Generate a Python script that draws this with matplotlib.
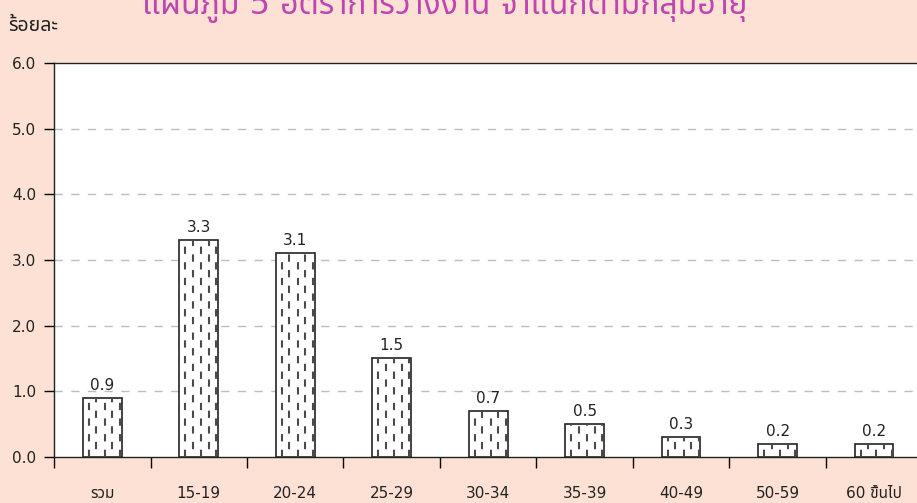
import matplotlib.pyplot as plt
import numpy as np

plt.rcParams['font.family'] = ['DejaVu Sans', 'Noto Sans Thai', 'Loma', 'Garuda', 'Noto Sans']

# data
groups = ['รวม', '15-19', '20-24', '25-29', '30-34', '35-39', '40-49', '50-59', '60 ขึ้นไป']
rates = [0.9, 3.3, 3.1, 1.5, 0.7, 0.5, 0.3, 0.2, 0.2]

title = 'แผนภูมิ 5 อัตราการว่างงาน จำแนกตามกลุ่มอายุ'
ylabel = 'ร้อยละ'

bg = '#fde1d4'

fig = plt.figure(figsize=(9.17, 5.03), dpi=100, facecolor=bg)
ax = fig.add_axes([0.0589, 0.0915, 0.947, 0.7833])
ax.set_facecolor('white')

x = np.arange(len(groups))
bw = 0.4
bars = ax.bar(x, rates, width=bw, color='white', edgecolor='#222222', linewidth=1.2, zorder=3)

# dashed vertical fill pattern inside bars
for i, b in enumerate(bars):
    x0 = b.get_x()
    h = b.get_height()
    for k, off in enumerate([0.15, 0.35, 0.56, 0.76, 0.95]):
        ax.vlines(x0 + off * bw, 0, h, colors='#4a4a4a', linewidth=1.5,
                  linestyles=(3.75 if k % 2 else 0, (3.5, 4)), zorder=4)
    ax.text(b.get_x() + bw / 2, h + 0.08, f'{h:.1f}', ha='center', va='bottom',
            fontsize=11, color='#222222', zorder=5)

ax.set_xlim(-0.5, len(groups) - 0.5)
ax.set_ylim(0, 6)
ax.set_yticks(np.arange(0, 6.1, 1.0))
ax.set_yticklabels([f'{v:.1f}' for v in np.arange(0, 6.1, 1.0)], fontsize=11, color='#222222')
ax.tick_params(axis='y', length=7, width=1, direction='out', pad=6)

ax.set_xticks(x)
ax.set_xticklabels(groups, fontsize=11, color='#222222')
ax.set_xticks(np.arange(-0.5, len(groups), 1.0), minor=True)
ax.tick_params(axis='x', which='major', length=0, pad=21)
ax.tick_params(axis='x', which='minor', length=8, width=1, direction='out')

for v in range(1, 6):
    ax.axhline(v, color='#bdbdbd', linewidth=1, linestyle=(0, (6, 6)), zorder=1)

for s in ['left', 'top', 'bottom']:
    ax.spines[s].set_color('#222222')
    ax.spines[s].set_linewidth(1)
ax.spines['right'].set_visible(False)

fig.text(0.009, 0.950, ylabel, fontsize=14, fontweight='bold', color='#222222', va='center')
fig.text(0.485, 0.972, title, fontsize=23, color='#bf45b0', ha='center', va='baseline')

fig.savefig('out.png', dpi=100, facecolor=bg)
